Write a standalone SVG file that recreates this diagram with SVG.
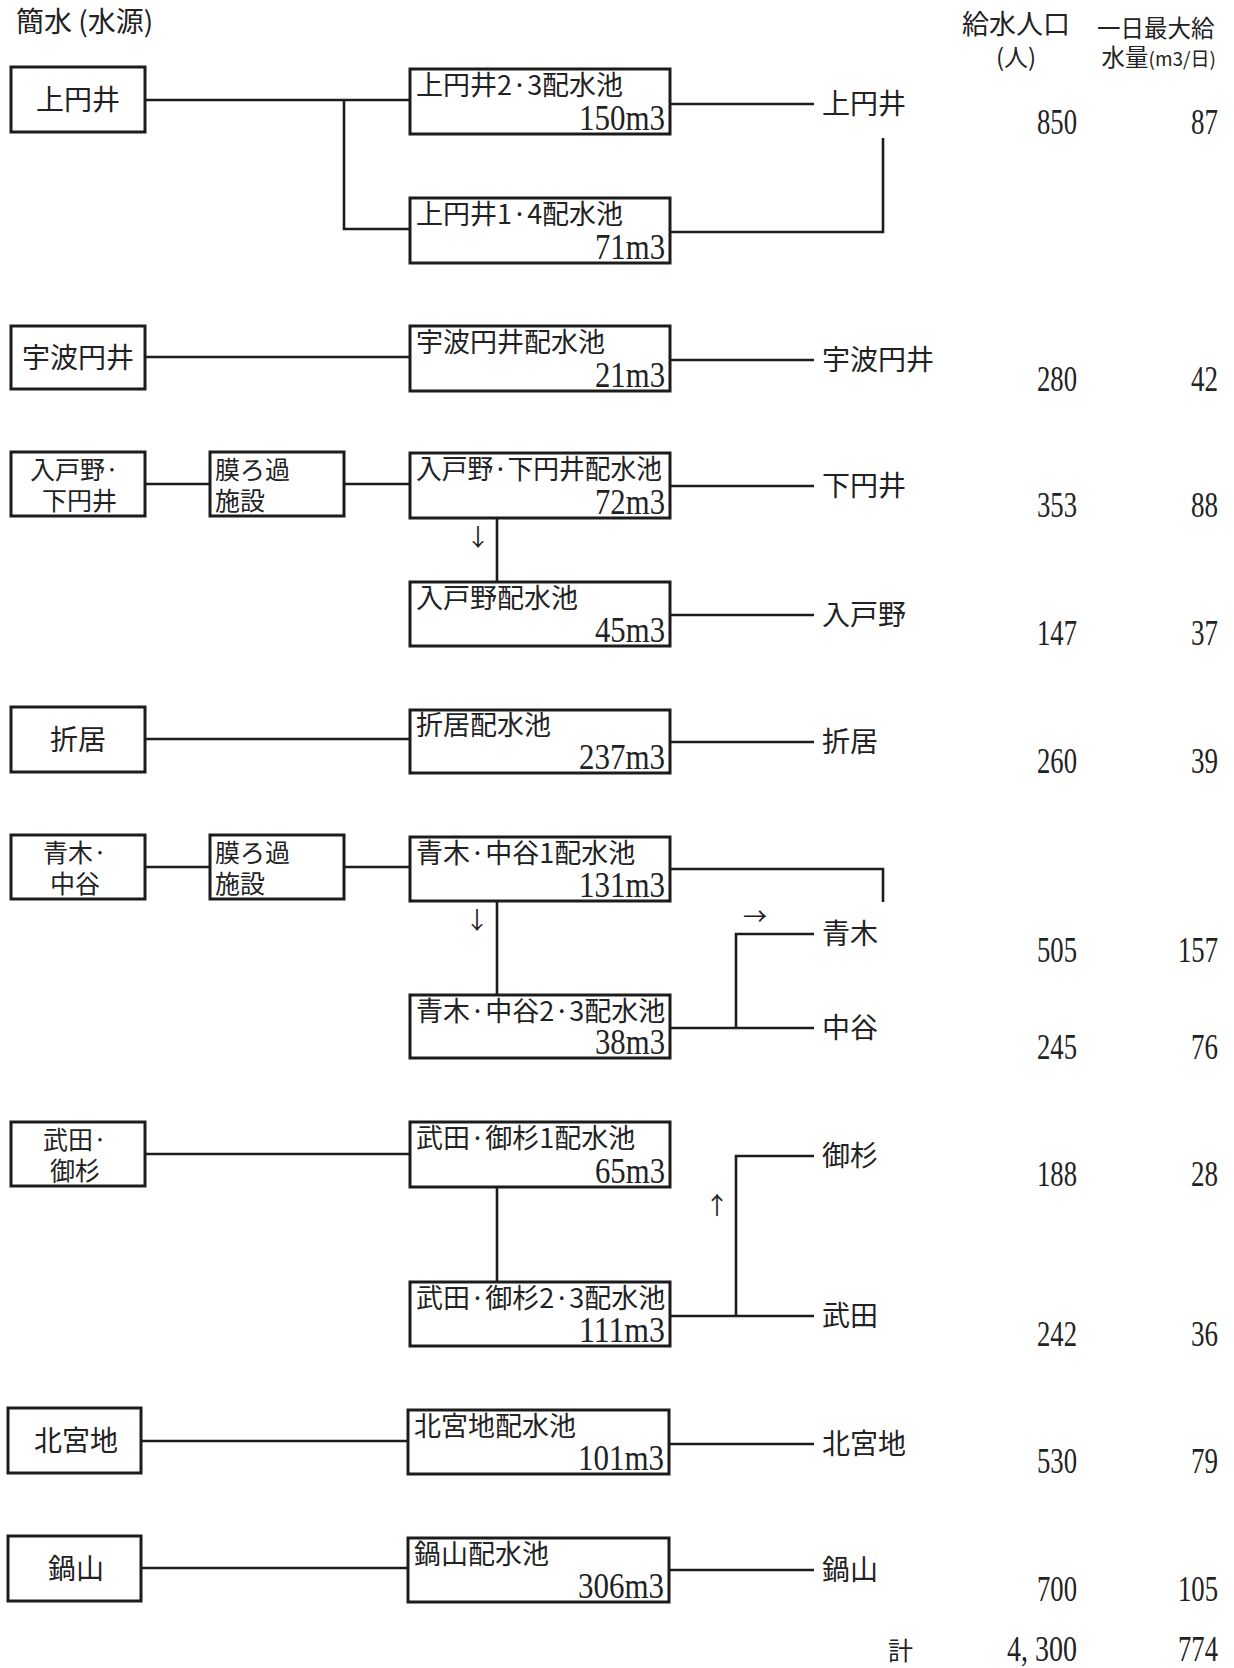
<svg xmlns="http://www.w3.org/2000/svg" width="1234" height="1668" viewBox="0 0 1234 1668">
<style>
.box{fill:#fff;stroke:#1c1c1c;stroke-width:3}
.ln{fill:none;stroke:#1c1c1c;stroke-width:2.6}
.jp{font-family:"Noto Sans CJK JP","Noto Sans CJK SC",sans-serif;fill:#222;font-size:28px}
.two{font-size:25px}
.h1{font-size:27px}
.h2{font-size:24px}
.h3{font-size:23.5px}
.sm{font-size:19px}
.tot{font-size:25px}
.nm{font-family:"Noto Sans CJK JP","Noto Sans CJK SC",sans-serif;fill:#222;font-size:27px}
.cap{font-family:"Liberation Serif",serif;fill:#222;font-size:35px;text-anchor:end}
.val{font-family:"Liberation Serif",serif;fill:#222;font-size:36px;text-anchor:end}
.mid{text-anchor:middle}
.arr{font-family:"Noto Sans CJK JP",sans-serif;fill:#222;font-size:24px;text-anchor:middle}
</style>
<rect width="1234" height="1668" fill="#fff"/>

<g id="header">
<text class="jp" x="16" y="32">簡水 (水源)</text>
<text class="jp h1" x="962" y="34">給水人口</text>
<text class="jp h2" x="996" y="66">(人)</text>
<text class="jp h3" x="1097" y="37">一日最大給</text>
<text class="jp h3" x="1216" y="66" text-anchor="end">水量<tspan class="sm">(m3/日)</tspan></text>
</g>

<g id="connectors">
<path class="ln" d="M145 100H410M344 100V229H410"/>
<path class="ln" d="M670 104H814"/>
<path class="ln" d="M670 232H883V138"/>
<path class="ln" d="M145 357H410M670 360H814"/>
<path class="ln" d="M145 484H210M344 484H410M670 486H814"/>
<path class="ln" d="M497 518V582M670 615H814"/>
<path class="ln" d="M145 739H410M670 742H814"/>
<path class="ln" d="M145 867H210M344 867H410"/>
<path class="ln" d="M670 869H883V902"/>
<path class="ln" d="M497 901V995"/>
<path class="ln" d="M670 1028H814M736 1028V934H814"/>
<path class="ln" d="M145 1154H410"/>
<path class="ln" d="M497 1187V1282"/>
<path class="ln" d="M670 1316H814M736 1316V1156H814"/>
<path class="ln" d="M141 1441H408M669 1444H814"/>
<path class="ln" d="M141 1568H408M669 1570H814"/>
<text class="arr" x="478" y="546">↓</text>
<text class="arr" x="477" y="929">↓</text>
<text class="arr" x="755" y="925">→</text>
<text class="arr" x="717" y="1214">↑</text>
</g>

<g id="kamienui">
<rect class="box" x="11" y="67" width="134" height="65"/>
<text class="jp mid" x="78" y="110">上円井</text>
</g>
<g id="kamienui23">
<rect class="box" x="410" y="69" width="260" height="65"/>
<text class="nm" x="416" y="95">上円井2·3配水池</text>
<text class="cap" x="665" y="130" textLength="86" lengthAdjust="spacingAndGlyphs">150m3</text>
</g>
<g id="kamienui14">
<rect class="box" x="410" y="198" width="260" height="65"/>
<text class="nm" x="416" y="224">上円井1·4配水池</text>
<text class="cap" x="665" y="259" textLength="70" lengthAdjust="spacingAndGlyphs">71m3</text>
</g>

<g id="ubaenui">
<rect class="box" x="11" y="326" width="134" height="63"/>
<text class="jp mid" x="78" y="368">宇波円井</text>
</g>
<g id="ubaenui-pool">
<rect class="box" x="410" y="326" width="260" height="65"/>
<text class="nm" x="416" y="352">宇波円井配水池</text>
<text class="cap" x="665" y="387" textLength="70" lengthAdjust="spacingAndGlyphs">21m3</text>
</g>

<g id="iritono">
<rect class="box" x="11" y="452" width="134" height="64"/>
<text class="jp two" x="30" y="479">入戸野·</text>
<text class="jp two" x="42" y="510">下円井</text>
</g>
<g id="filter1">
<rect class="box" x="210" y="452" width="134" height="64"/>
<text class="jp two" x="215" y="479">膜ろ過</text>
<text class="jp two" x="215" y="510">施設</text>
</g>
<g id="iritono-pool1">
<rect class="box" x="410" y="453" width="260" height="65"/>
<text class="nm" x="416" y="479" textLength="246" lengthAdjust="spacingAndGlyphs">入戸野·下円井配水池</text>
<text class="cap" x="665" y="514" textLength="70" lengthAdjust="spacingAndGlyphs">72m3</text>
</g>
<g id="iritono-pool2">
<rect class="box" x="410" y="582" width="260" height="64"/>
<text class="nm" x="416" y="608">入戸野配水池</text>
<text class="cap" x="665" y="642" textLength="70" lengthAdjust="spacingAndGlyphs">45m3</text>
</g>

<g id="orii">
<rect class="box" x="11" y="707" width="134" height="65"/>
<text class="jp mid" x="78" y="750">折居</text>
</g>
<g id="orii-pool">
<rect class="box" x="410" y="710" width="260" height="63"/>
<text class="nm" x="416" y="735">折居配水池</text>
<text class="cap" x="665" y="769" textLength="86" lengthAdjust="spacingAndGlyphs">237m3</text>
</g>

<g id="aoki">
<rect class="box" x="11" y="835" width="134" height="64"/>
<text class="jp two" x="43" y="862">青木·</text>
<text class="jp two" x="50" y="893">中谷</text>
</g>
<g id="filter2">
<rect class="box" x="210" y="835" width="134" height="64"/>
<text class="jp two" x="215" y="862">膜ろ過</text>
<text class="jp two" x="215" y="893">施設</text>
</g>
<g id="aoki-pool1">
<rect class="box" x="410" y="837" width="260" height="64"/>
<text class="nm" x="416" y="863">青木·中谷1配水池</text>
<text class="cap" x="665" y="897" textLength="86" lengthAdjust="spacingAndGlyphs">131m3</text>
</g>
<g id="aoki-pool2">
<rect class="box" x="410" y="995" width="260" height="63"/>
<text class="nm" x="416" y="1021">青木·中谷2·3配水池</text>
<text class="cap" x="665" y="1054" textLength="70" lengthAdjust="spacingAndGlyphs">38m3</text>
</g>

<g id="takeda">
<rect class="box" x="11" y="1122" width="134" height="64"/>
<text class="jp two" x="43" y="1149">武田·</text>
<text class="jp two" x="50" y="1180">御杉</text>
</g>
<g id="takeda-pool1">
<rect class="box" x="410" y="1122" width="260" height="65"/>
<text class="nm" x="416" y="1148">武田·御杉1配水池</text>
<text class="cap" x="665" y="1183" textLength="70" lengthAdjust="spacingAndGlyphs">65m3</text>
</g>
<g id="takeda-pool2">
<rect class="box" x="410" y="1282" width="260" height="64"/>
<text class="nm" x="416" y="1308">武田·御杉2·3配水池</text>
<text class="cap" x="665" y="1342" textLength="86" lengthAdjust="spacingAndGlyphs">111m3</text>
</g>

<g id="kitamiyaji">
<rect class="box" x="8" y="1408" width="133" height="65"/>
<text class="jp mid" x="76" y="1451">北宮地</text>
</g>
<g id="kitamiyaji-pool">
<rect class="box" x="408" y="1410" width="261" height="64"/>
<text class="nm" x="414" y="1436">北宮地配水池</text>
<text class="cap" x="664" y="1470" textLength="86" lengthAdjust="spacingAndGlyphs">101m3</text>
</g>

<g id="nabeyama">
<rect class="box" x="8" y="1536" width="133" height="65"/>
<text class="jp mid" x="76" y="1579">鍋山</text>
</g>
<g id="nabeyama-pool">
<rect class="box" x="408" y="1538" width="261" height="64"/>
<text class="nm" x="414" y="1564">鍋山配水池</text>
<text class="cap" x="664" y="1598" textLength="86" lengthAdjust="spacingAndGlyphs">306m3</text>
</g>

<g id="areas">
<text class="jp" x="822" y="114">上円井</text>
<text class="jp" x="822" y="370">宇波円井</text>
<text class="jp" x="822" y="496">下円井</text>
<text class="jp" x="822" y="625">入戸野</text>
<text class="jp" x="822" y="752">折居</text>
<text class="jp" x="822" y="944">青木</text>
<text class="jp" x="822" y="1038">中谷</text>
<text class="jp" x="822" y="1166">御杉</text>
<text class="jp" x="822" y="1326">武田</text>
<text class="jp" x="822" y="1454">北宮地</text>
<text class="jp" x="822" y="1580">鍋山</text>
</g>

<g id="values">
<text class="val" x="1077" y="134" textLength="40" lengthAdjust="spacingAndGlyphs">850</text>
<text class="val" x="1218" y="134" textLength="27" lengthAdjust="spacingAndGlyphs">87</text>
<text class="val" x="1077" y="391" textLength="40" lengthAdjust="spacingAndGlyphs">280</text>
<text class="val" x="1218" y="391" textLength="27" lengthAdjust="spacingAndGlyphs">42</text>
<text class="val" x="1077" y="517" textLength="40" lengthAdjust="spacingAndGlyphs">353</text>
<text class="val" x="1218" y="517" textLength="27" lengthAdjust="spacingAndGlyphs">88</text>
<text class="val" x="1077" y="645" textLength="40" lengthAdjust="spacingAndGlyphs">147</text>
<text class="val" x="1218" y="645" textLength="27" lengthAdjust="spacingAndGlyphs">37</text>
<text class="val" x="1077" y="773" textLength="40" lengthAdjust="spacingAndGlyphs">260</text>
<text class="val" x="1218" y="773" textLength="27" lengthAdjust="spacingAndGlyphs">39</text>
<text class="val" x="1077" y="962" textLength="40" lengthAdjust="spacingAndGlyphs">505</text>
<text class="val" x="1218" y="962" textLength="40" lengthAdjust="spacingAndGlyphs">157</text>
<text class="val" x="1077" y="1059" textLength="40" lengthAdjust="spacingAndGlyphs">245</text>
<text class="val" x="1218" y="1059" textLength="27" lengthAdjust="spacingAndGlyphs">76</text>
<text class="val" x="1077" y="1186" textLength="40" lengthAdjust="spacingAndGlyphs">188</text>
<text class="val" x="1218" y="1186" textLength="27" lengthAdjust="spacingAndGlyphs">28</text>
<text class="val" x="1077" y="1346" textLength="40" lengthAdjust="spacingAndGlyphs">242</text>
<text class="val" x="1218" y="1346" textLength="27" lengthAdjust="spacingAndGlyphs">36</text>
<text class="val" x="1077" y="1473" textLength="40" lengthAdjust="spacingAndGlyphs">530</text>
<text class="val" x="1218" y="1473" textLength="27" lengthAdjust="spacingAndGlyphs">79</text>
<text class="val" x="1077" y="1601" textLength="40" lengthAdjust="spacingAndGlyphs">700</text>
<text class="val" x="1218" y="1601" textLength="40" lengthAdjust="spacingAndGlyphs">105</text>
<text class="jp tot" x="888" y="1660">計</text>
<text class="val" x="1077" y="1661" textLength="70" lengthAdjust="spacingAndGlyphs">4, 300</text>
<text class="val" x="1218" y="1661" textLength="40" lengthAdjust="spacingAndGlyphs">774</text>
</g>
</svg>
